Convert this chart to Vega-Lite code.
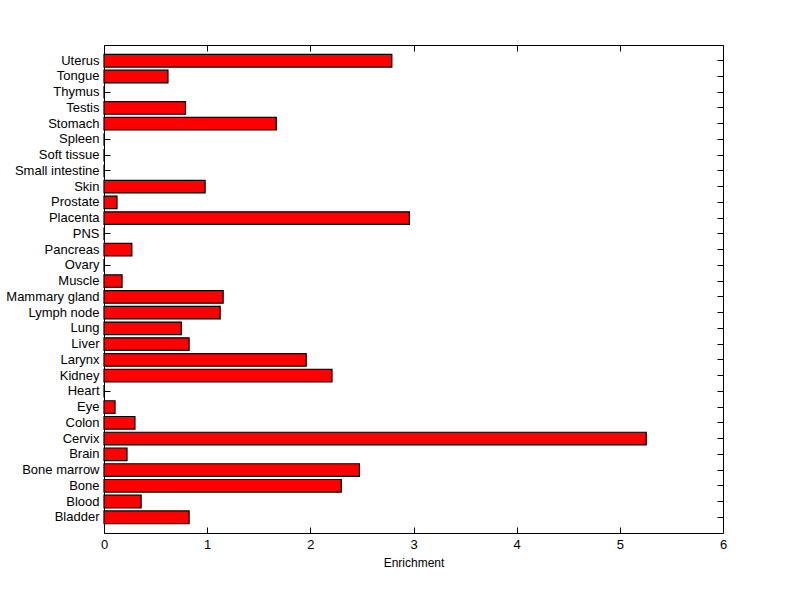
{
  "$schema": "https://vega.github.io/schema/vega-lite/v6.json",
  "width": 619,
  "height": 488,
  "autosize": {"type": "none"},
  "padding": {"left": 104, "top": 45, "right": 77, "bottom": 66},
  "background": "white",
  "config": {
    "view": {"stroke": null},
    "axis": {
      "grid": false,
      "domainColor": "black",
      "tickColor": "black",
      "labelColor": "black",
      "titleColor": "black",
      "labelFont": "Liberation Sans",
      "titleFont": "Liberation Sans",
      "labelFontSize": 13,
      "titleFontSize": 12,
      "titleFontWeight": "normal",
      "tickSize": -6,
      "domainWidth": 1,
      "tickWidth": 1,
      "labelOverlap": false,
      "labelFlush": false
    }
  },
  "data": {
    "values": [
      {"tissue": "Bladder", "enrichment": 0.825},
      {"tissue": "Blood", "enrichment": 0.36},
      {"tissue": "Bone", "enrichment": 2.30},
      {"tissue": "Bone marrow", "enrichment": 2.476},
      {"tissue": "Brain", "enrichment": 0.223},
      {"tissue": "Cervix", "enrichment": 5.256},
      {"tissue": "Colon", "enrichment": 0.30},
      {"tissue": "Eye", "enrichment": 0.107},
      {"tissue": "Heart", "enrichment": 0},
      {"tissue": "Kidney", "enrichment": 2.21},
      {"tissue": "Larynx", "enrichment": 1.96},
      {"tissue": "Liver", "enrichment": 0.825},
      {"tissue": "Lung", "enrichment": 0.75},
      {"tissue": "Lymph node", "enrichment": 1.126},
      {"tissue": "Mammary gland", "enrichment": 1.155},
      {"tissue": "Muscle", "enrichment": 0.175},
      {"tissue": "Ovary", "enrichment": 0},
      {"tissue": "Pancreas", "enrichment": 0.27},
      {"tissue": "PNS", "enrichment": 0},
      {"tissue": "Placenta", "enrichment": 2.96},
      {"tissue": "Prostate", "enrichment": 0.126},
      {"tissue": "Skin", "enrichment": 0.98},
      {"tissue": "Small intestine", "enrichment": 0},
      {"tissue": "Soft tissue", "enrichment": 0},
      {"tissue": "Spleen", "enrichment": 0},
      {"tissue": "Stomach", "enrichment": 1.67},
      {"tissue": "Testis", "enrichment": 0.79},
      {"tissue": "Thymus", "enrichment": 0},
      {"tissue": "Tongue", "enrichment": 0.62},
      {"tissue": "Uterus", "enrichment": 2.79}
    ]
  },
  "layer": [
    {
      "mark": {"type": "bar", "fill": "#ff0000", "stroke": "black", "strokeWidth": 1.2},
      "encoding": {
        "y": {"field": "tissue", "type": "nominal", "sort": ["Uterus","Tongue","Thymus","Testis","Stomach","Spleen","Soft tissue","Small intestine","Skin","Prostate","Placenta","PNS","Pancreas","Ovary","Muscle","Mammary gland","Lymph node","Lung","Liver","Larynx","Kidney","Heart","Eye","Colon","Cervix","Brain","Bone marrow","Bone","Blood","Bladder"], "scale": {"paddingInner": 0.2, "paddingOuter": 0.6}, "axis": {"orient": "left", "title": null, "labelPadding": 11}},
        "x": {"field": "enrichment", "type": "quantitative", "scale": {"domain": [0, 6], "nice": false}, "axis": {"orient": "bottom", "title": "Enrichment", "values": [0,1,2,3,4,5,6], "labelPadding": 11, "titlePadding": 6}}
      }
    },
    {
      "mark": {"type": "bar", "opacity": 0},
      "encoding": {
        "y": {"field": "tissue", "type": "nominal", "sort": ["Uterus","Tongue","Thymus","Testis","Stomach","Spleen","Soft tissue","Small intestine","Skin","Prostate","Placenta","PNS","Pancreas","Ovary","Muscle","Mammary gland","Lymph node","Lung","Liver","Larynx","Kidney","Heart","Eye","Colon","Cervix","Brain","Bone marrow","Bone","Blood","Bladder"], "scale": {"paddingInner": 0.2, "paddingOuter": 0.6}, "axis": {"orient": "right", "title": null, "labels": false}},
        "x": {"field": "enrichment", "type": "quantitative", "scale": {"domain": [0, 6], "nice": false}, "axis": {"orient": "top", "title": null, "labels": false, "values": [0,1,2,3,4,5,6]}}
      }
    }
  ],
  "resolve": {"axis": {"x": "independent", "y": "independent"}}
}
